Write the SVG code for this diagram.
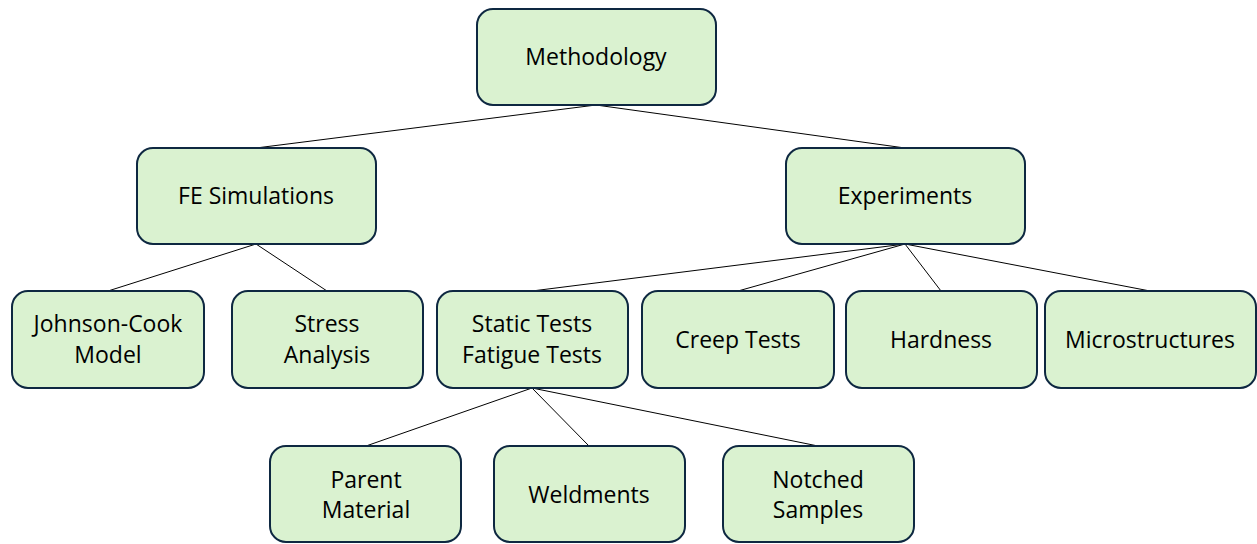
<svg xmlns="http://www.w3.org/2000/svg" width="1257" height="544" viewBox="0 0 1257 544">
<style>
.box{fill:#DAF2D0;stroke:#0E2841;stroke-width:2}
.t{font-family:"Open Sans","Liberation Sans",sans-serif;font-size:23px;fill:#000;text-anchor:middle;dominant-baseline:central}
.c{stroke:#000;stroke-width:1;fill:none}
</style>
<rect width="1257" height="544" fill="#fff"/>
<g id="connectors">
<line class="c" x1="596" y1="105" x2="256" y2="148"/>
<line class="c" x1="596" y1="105" x2="905" y2="148"/>
<line class="c" x1="256" y1="244" x2="108" y2="291"/>
<line class="c" x1="256" y1="244" x2="327" y2="291"/>
<line class="c" x1="905" y1="244" x2="532" y2="291"/>
<line class="c" x1="905" y1="244" x2="738" y2="291"/>
<line class="c" x1="905" y1="244" x2="941" y2="291"/>
<line class="c" x1="905" y1="244" x2="1150" y2="291"/>
<line class="c" x1="532" y1="388" x2="366" y2="446"/>
<line class="c" x1="532" y1="388" x2="589" y2="446"/>
<line class="c" x1="532" y1="388" x2="818" y2="446"/>
</g>
<g id="methodology"><rect class="box" x="477" y="9" width="239" height="96" rx="16"/><text class="t" x="596" y="56">Methodology</text></g>
<g id="fe"><rect class="box" x="137" y="148" width="239" height="96" rx="16"/><text class="t" x="256" y="195">FE Simulations</text></g>
<g id="experiments"><rect class="box" x="786" y="148" width="239" height="96" rx="16"/><text class="t" x="905" y="195">Experiments</text></g>
<g id="jc"><rect class="box" x="12" y="291" width="192" height="97" rx="16"/><text class="t" x="108" y="323">Johnson-Cook</text><text class="t" x="108" y="354">Model</text></g>
<g id="stress"><rect class="box" x="232" y="291" width="191" height="97" rx="16"/><text class="t" x="327" y="323">Stress</text><text class="t" x="327" y="354">Analysis</text></g>
<g id="static"><rect class="box" x="437" y="291" width="191" height="97" rx="16"/><text class="t" x="532" y="323">Static Tests</text><text class="t" x="532" y="354">Fatigue Tests</text></g>
<g id="creep"><rect class="box" x="642" y="291" width="192" height="97" rx="16"/><text class="t" x="738" y="339">Creep Tests</text></g>
<g id="hardness"><rect class="box" x="846" y="291" width="191" height="97" rx="16"/><text class="t" x="941" y="339">Hardness</text></g>
<g id="micro"><rect class="box" x="1045" y="291" width="211" height="97" rx="16"/><text class="t" x="1150" y="339">Microstructures</text></g>
<g id="parent"><rect class="box" x="270" y="446" width="191" height="96" rx="16"/><text class="t" x="366" y="479">Parent</text><text class="t" x="366" y="509">Material</text></g>
<g id="weldments"><rect class="box" x="494" y="446" width="191" height="96" rx="16"/><text class="t" x="589" y="494">Weldments</text></g>
<g id="notched"><rect class="box" x="723" y="446" width="191" height="96" rx="16"/><text class="t" x="818" y="479">Notched</text><text class="t" x="818" y="509">Samples</text></g>
</svg>
